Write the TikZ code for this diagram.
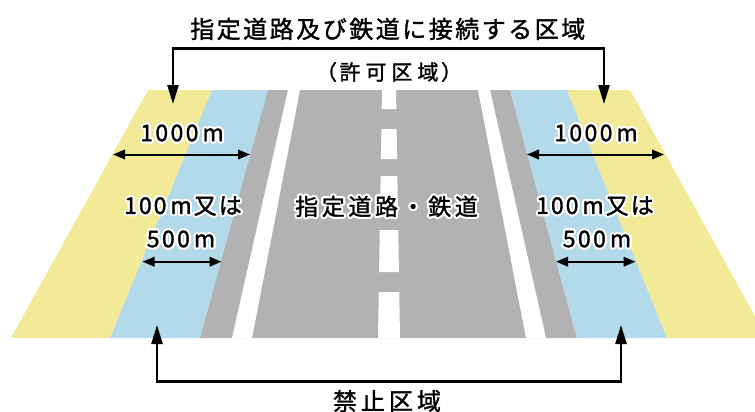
\documentclass[tikz,border=0pt]{standalone}
\usepackage{fontspec}
\setmainfont{Noto Sans CJK JP}[FakeBold=1.4]
\usepackage[copies]{contour}
\contourlength{2pt}
\contournumber{28}
\usetikzlibrary{arrows.meta}
\definecolor{zyellow}{HTML}{F2EA96}
\definecolor{zblue}{HTML}{B3DAEA}
\definecolor{zgray}{HTML}{B2B2B2}
\def\trkend{\trkend}
\protected\def\trk#1#2{\def\trkgap{#1}\trkloop#2\trkend\hspace{-#1}}
\def\trkloop#1{\ifx#1\trkend\else#1\hspace{\trkgap}\expandafter\trkloop\fi}
\newcommand\halo[1]{\contour{white}{#1}}
\begin{document}
\begin{tikzpicture}[x=1pt,y=-1pt,
  title/.style={inner sep=0pt,font=\fontsize{24}{28}\selectfont},
  sub/.style={inner sep=0pt,font=\fontsize{21}{25}\selectfont},
  lab/.style={inner sep=0pt,font=\fontsize{23}{27}\selectfont},
  bracket/.style={line width=2.5pt,{Triangle[length=19pt,width=11pt]}-{Triangle[length=19pt,width=11pt]}},
  dim/.style={line width=2pt,{Triangle[length=12pt,width=9.5pt]}-{Triangle[length=12pt,width=9.5pt]}}]
\useasboundingbox (0,0) rectangle (755,412);
\clip (0,0) rectangle (755,412);
% zones
\fill[zyellow] (148,90) -- (212,90) -- (110,338) -- (11,338) -- cycle;
\fill[zblue] (212,90) -- (268,90) -- (200,338) -- (110,338) -- cycle;
\fill[zgray] (268,90) -- (510,90) -- (577,338) -- (200,338) -- cycle;
\fill[zblue] (510,90) -- (567,90) -- (667,338) -- (577,338) -- cycle;
\fill[zyellow] (567,90) -- (630,90) -- (767,338) -- (667,338) -- cycle;
% white edge lines
\fill[white] (288,90) -- (300,90) -- (252,338) -- (232,338) -- cycle;
\fill[white] (478,90) -- (490,90) -- (546,338) -- (526,338) -- cycle;
% centre dashes
\foreach \a/\b in {90/109,129/159,176/210,230/272,292/338}{
  \pgfmathsetmacro\ha{7+4*(\a-90)/248}
  \pgfmathsetmacro\hb{7+4*(\b-90)/248}
  \fill[white] (389-\ha,\a) -- (389+\ha,\a) -- (389+\hb,\b) -- (389-\hb,\b) -- cycle;
}
% titles
\node[title] (top) at (389,29) {\trk{2.5pt}{指定道路及び鉄道に接続する区域}};
\node[sub] (permit) at (389,72) {（\hspace{2.5pt}\trk{5pt}{許可区域}\hspace{2.5pt}）};
\node[title] (ban) at (389,401) {\trk{4pt}{禁止区域}};
% brackets
\coordinate (tl) at (173,104);
\coordinate (tr) at (604,104);
\coordinate (bl) at (157,325);
\coordinate (br) at (621,325);
\draw[bracket] (tl) -- (173,48.5) -- (604,48.5) -- (tr);
\draw[bracket] (bl) -- (157,381.7) -- (621,381.7) -- (br);
% road label
\node[lab] (road) at (386.5,207.5) {\halo{\trk{3.6pt}{指定道路・鉄道}}};
% left labels
\node[lab] (l1000) at (182,134) {\halo{\trk{2.4pt}{1000}\hspace{4pt}m}};
\node[lab] (l100) at (183,207) {\halo{\trk{2pt}{100}\hspace{4pt}\trk{2pt}{m又は}}};
\node[lab] (l500) at (181,240) {\halo{\trk{2.4pt}{500}\hspace{4pt}m}};
% right labels
\node[lab] (r1000) at (596,134) {\halo{\trk{2.4pt}{1000}\hspace{4pt}m}};
\node[lab] (r100) at (595,207) {\halo{\trk{2pt}{100}\hspace{4pt}\trk{2pt}{m又は}}};
\node[lab] (r500) at (597,240) {\halo{\trk{2.4pt}{500}\hspace{4pt}m}};
% dimension arrows
\coordinate (la1) at (113,154.5); \coordinate (lb1) at (250,154.5);
\coordinate (la2) at (142.5,261.7); \coordinate (lb2) at (221.5,261.7);
\coordinate (ra1) at (527,154.5); \coordinate (rb1) at (664,154.5);
\coordinate (ra2) at (556,261.7); \coordinate (rb2) at (635.5,261.7);
\draw[dim] (la1) -- (lb1);
\draw[dim] (la2) -- (lb2);
\draw[dim] (ra1) -- (rb1);
\draw[dim] (ra2) -- (rb2);
\end{tikzpicture}
\end{document}
